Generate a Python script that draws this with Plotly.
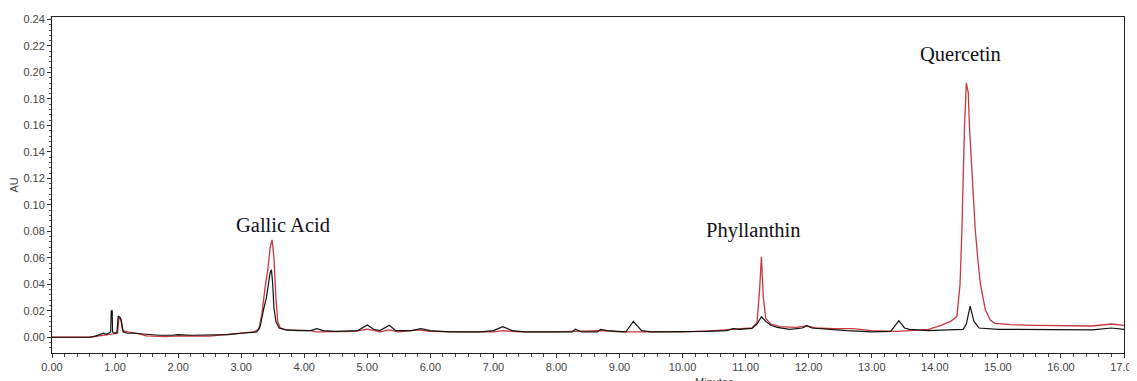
import plotly.graph_objects as go

# Retention times (min) and absorbance (AU)
black_t = [0.00, 0.60, 0.70, 0.78, 0.82, 0.86, 0.90, 0.93, 0.94, 0.955, 0.96, 1.00, 1.03, 1.05, 1.08, 1.10, 1.13,
           1.20, 1.30, 1.40, 1.50, 1.70, 1.90, 2.00, 2.20, 2.40, 2.60, 2.80, 3.00, 3.15, 3.25, 3.30, 3.33, 3.36,
           3.40, 3.43, 3.46, 3.48, 3.50, 3.52, 3.55, 3.60, 3.70, 3.90, 4.10, 4.20, 4.30, 4.50, 4.70, 4.85, 5.00,
           5.10, 5.20, 5.35, 5.45, 5.70, 5.85, 6.00, 6.30, 6.60, 6.80, 7.00, 7.15, 7.30, 7.50, 8.00, 8.25, 8.30,
           8.40, 8.65, 8.70, 8.80, 9.10, 9.22, 9.35, 9.50, 10.00, 10.40, 10.70, 10.80, 10.90, 11.10, 11.18, 11.25,
           11.32, 11.40, 11.50, 11.70, 11.90, 11.97, 12.05, 12.30, 12.60, 13.00, 13.30, 13.43, 13.52, 13.60, 13.90,
           14.20, 14.45, 14.50, 14.56, 14.62, 14.70, 15.00, 15.50, 16.00, 16.50, 16.80, 17.00]
black_au = [0.000, 0.000, 0.001, 0.002, 0.003, 0.002, 0.003, 0.004, 0.020, 0.020, 0.004, 0.003, 0.004, 0.016, 0.015,
            0.012, 0.004, 0.003, 0.003, 0.0025, 0.002, 0.0015, 0.0015, 0.002, 0.0015, 0.0015, 0.002, 0.002, 0.003,
            0.0035, 0.004, 0.008, 0.016, 0.022, 0.030, 0.038, 0.049, 0.051, 0.040, 0.022, 0.012, 0.007, 0.0055,
            0.005, 0.005, 0.0065, 0.005, 0.0045, 0.0045, 0.005, 0.0092, 0.006, 0.005, 0.009, 0.005, 0.005, 0.0065,
            0.005, 0.004, 0.004, 0.004, 0.005, 0.008, 0.005, 0.004, 0.004, 0.004, 0.006, 0.004, 0.004, 0.006,
            0.005, 0.004, 0.012, 0.005, 0.004, 0.004, 0.0045, 0.005, 0.0065, 0.006, 0.0067, 0.010, 0.0155, 0.012,
            0.009, 0.0075, 0.006, 0.007, 0.0088, 0.007, 0.006, 0.005, 0.004, 0.0045, 0.0125, 0.007, 0.006, 0.005,
            0.0055, 0.006, 0.010, 0.0235, 0.012, 0.007, 0.006, 0.006, 0.0055, 0.0055, 0.007, 0.006]

red_t = [0.00, 0.60, 0.75, 0.90, 1.00, 1.04, 1.06, 1.09, 1.12, 1.20, 1.35, 1.50, 1.80, 2.00, 2.50, 2.80, 3.00, 3.20,
         3.28, 3.33, 3.38, 3.42, 3.46, 3.49, 3.52, 3.55, 3.58, 3.62, 3.72, 3.90, 4.10, 4.20, 4.40, 4.80, 5.00, 5.20,
         5.35, 5.50, 5.80, 6.00, 6.50, 7.00, 7.15, 7.40, 8.00, 8.70, 9.00, 9.50, 10.00, 10.50, 10.80, 11.10, 11.18,
         11.22, 11.25, 11.28, 11.32, 11.40, 11.55, 11.80, 11.97, 12.10, 12.40, 12.70, 13.00, 13.40, 13.60, 13.90,
         14.10, 14.25, 14.35, 14.40, 14.43, 14.47, 14.50, 14.53, 14.55, 14.60, 14.64, 14.68, 14.72, 14.80, 14.88,
         14.95, 15.20, 15.60, 16.00, 16.50, 16.80, 17.00]
red_au = [0.000, 0.000, 0.001, 0.002, 0.0025, 0.003, 0.014, 0.014, 0.005, 0.004, 0.003, 0.001, 0.0005, 0.001,
          0.0008, 0.002, 0.003, 0.004, 0.006, 0.018, 0.038, 0.050, 0.068, 0.0735, 0.060, 0.030, 0.012, 0.007,
          0.0055, 0.005, 0.005, 0.004, 0.004, 0.0045, 0.0062, 0.004, 0.0055, 0.004, 0.0055, 0.0045, 0.004, 0.004,
          0.005, 0.004, 0.004, 0.005, 0.004, 0.004, 0.004, 0.005, 0.006, 0.007, 0.011, 0.035, 0.0607, 0.030,
          0.014, 0.010, 0.008, 0.0075, 0.0085, 0.007, 0.0065, 0.0065, 0.005, 0.0045, 0.005, 0.006, 0.009, 0.012,
          0.0156, 0.040, 0.082, 0.158, 0.192, 0.185, 0.158, 0.115, 0.082, 0.060, 0.041, 0.021, 0.013, 0.0105,
          0.0095, 0.009, 0.009, 0.0085, 0.010, 0.009]

peak_labels = ["Gallic Acid", "Phyllanthin", "Quercetin"]
peak_label_t = [3.66, 11.12, 14.40]
peak_label_au = [0.0848, 0.081, 0.214]

x_ticks = [float(i) for i in range(0, 18)]
y_ticks = [i * 0.02 for i in range(0, 13)]

fig = go.Figure()
fig.add_trace(go.Scatter(x=red_t, y=red_au, mode="lines",
                         line=dict(color="#c8383e", width=1.3), showlegend=False))
fig.add_trace(go.Scatter(x=black_t, y=black_au, mode="lines",
                         line=dict(color="#111111", width=1.2), showlegend=False))

for txt, tx, ty in zip(peak_labels, peak_label_t, peak_label_au):
    fig.add_annotation(x=tx, y=ty, xref="x", yref="y", text=txt, showarrow=False,
                       font=dict(family="Liberation Serif", size=20.5, color="#101020"))

fig.add_annotation(x=-0.035, y=0.5, xref="paper", yref="paper", text="AU", textangle=-90,
                   showarrow=False, xanchor="center", yanchor="middle",
                   font=dict(family="Liberation Sans", size=11, color="#444444"))
fig.add_annotation(x=0.618, y=-0.062, xref="paper", yref="paper", text="Minutes",
                   showarrow=False, xanchor="center", yanchor="top",
                   font=dict(family="Liberation Sans", size=11, color="#444444"))

tickfont = dict(family="Liberation Sans", size=11, color="#444444")
fig.update_xaxes(range=[0, 17], tickvals=x_ticks, tickformat=".2f", ticks="outside", ticklen=4,
                 tickwidth=1, tickcolor="#333333", showline=True, linecolor="#222222", linewidth=1,
                 mirror=True, showgrid=False, zeroline=False, tickfont=tickfont,
                 ticklabeloverflow="allow",
                 minor=dict(dtick=0.2, ticks="outside", ticklen=3, tickcolor="#444444", showgrid=False),
                 automargin=False)
fig.update_yaxes(range=[-0.0119, 0.2419], tickvals=y_ticks, tickformat=".2f", ticks="outside", ticklen=4,
                 tickwidth=1, tickcolor="#333333", showline=True, linecolor="#222222", linewidth=1,
                 mirror=True, showgrid=False, zeroline=False, tickfont=tickfont,
                 ticklabeloverflow="allow",
                 minor=dict(dtick=0.004, tick0=0, ticks="outside", ticklen=2, tickcolor="#555555", showgrid=False),
                 automargin=False)

# the page body adds an 8px offset, so the figure is sized to land the plot frame where the reference has it
fig.update_layout(width=1129, height=373, margin=dict(l=44, r=13, t=9, b=28),
                  paper_bgcolor="white", plot_bgcolor="white")

fig.write_html("out.html")
